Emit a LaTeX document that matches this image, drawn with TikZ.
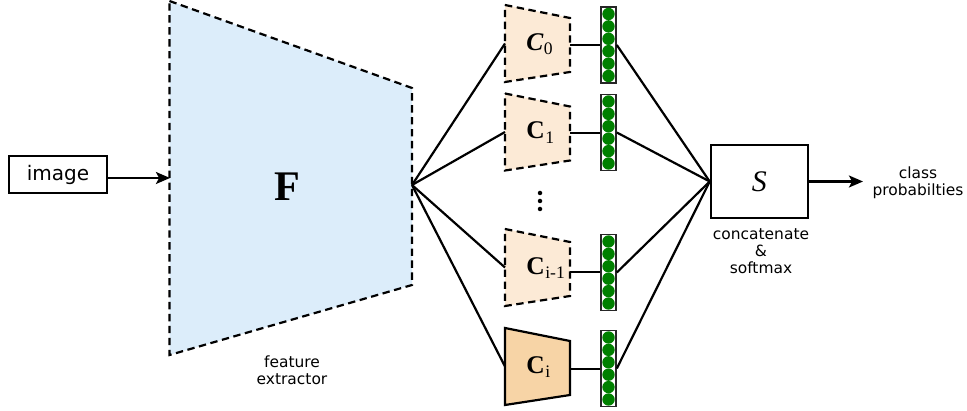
\documentclass[tikz,border=0pt]{standalone}
\usepackage{fontspec}
\setmainfont{DejaVu Sans}
\newfontfamily\tms{Liberation Serif}
\usetikzlibrary{arrows.meta}
\definecolor{fblue}{HTML}{DCEDFA}
\definecolor{peachl}{HTML}{FCEAD6}
\definecolor{peach}{HTML}{F7D4A6}
\definecolor{dotgreen}{HTML}{008000}
\newcommand\pxu{0.02cm}
\newcommand\clab[2]{{\tms\fontsize{14.5}{14.5}\selectfont\bfseries #1C}\kern0.3pt\raisebox{-2.4pt}{\tms\fontsize{10}{10}\selectfont #2}}
\newcommand\greencol[2]{%
  \node[colbox] (#1) at (608.5,#2) {};
  \foreach \k in {0,...,5} \fill[dotgreen] (608.5,{#2-38+7+12.4*\k}) circle[radius=0.124cm];}
\tikzset{
  conn/.style={line width=1.25pt},
  arr/.style={line width=1.25pt,-{Stealth[length=8pt,width=6.8pt,inset=1.8pt]}},
  dashbord/.style={line width=1.25pt,dash pattern=on 4.2pt off 2.6pt},
  colbox/.style={draw=black!85,line width=0.9pt,fill=white,minimum width=15*\pxu,minimum height=76*\pxu,inner sep=0pt},
  lbl/.style={font=\fontsize{8.8}{9.7}\selectfont,align=center,inner sep=0pt},
  boxnode/.style={draw,inner sep=0pt},
}
\begin{document}
\begin{tikzpicture}[x=0.02cm,y=-0.02cm]
\useasboundingbox (0,0) rectangle (967,411);
% input
\node[boxnode,line width=0.8pt,minimum width=98*\pxu,minimum height=37*\pxu,font=\fontsize{11.4}{12}\selectfont] (image) at (58,174.5) {image};
% feature extractor
\draw[dashbord,fill=fblue] (169.5,1) -- (412,88) -- (412,285) -- (169.5,355) -- cycle;
\coordinate (fin) at (170,178);
\coordinate (fout) at (412,185);
\node[anchor=base,inner sep=0pt,font=\tms\fontsize{24}{24}\selectfont\bfseries] (F) at (287,201) {F};
\node[lbl] (fe) at (292,370) {feature\\extractor};
\draw[arr] (image.east |- fin) -- (fin);
% classifiers
\draw[dashbord,fill=peachl] (505,5) -- (570,18) -- (570,72) -- (505,82) -- cycle;
\draw[dashbord,fill=peachl] (505,93.5) -- (570,106.5) -- (570,160.5) -- (505,170.5) -- cycle;
\draw[dashbord,fill=peachl] (505,229) -- (570,242) -- (570,296) -- (505,306) -- cycle;
\draw[line width=1.25pt,fill=peach] (505,328) -- (570,341) -- (570,395) -- (505,405) -- cycle;
\coordinate (c0w) at (505,43.5);
\coordinate (c1w) at (505,132);
\coordinate (c2w) at (505,267.5);
\coordinate (c3w) at (505,366.5);
\coordinate (c0e) at (570,45);
\coordinate (c1e) at (570,133);
\coordinate (c2e) at (570,272);
\coordinate (c3e) at (570,369);
\node[anchor=base west,inner sep=0pt] (c0) at (526,50.5) {\clab{\itshape}{0}};
\node[anchor=base west,inner sep=0pt] (c1) at (526,139) {\clab{}{1}};
\node[anchor=base west,inner sep=0pt] (c2) at (526,274.5) {\clab{}{i-1}};
\node[anchor=base west,inner sep=0pt] (c3) at (526,373.5) {\clab{}{i}};
% vertical dots
\foreach \yy/\nm in {193/d1,201/d2,209/d3} \fill (540,\yy) circle[radius=0.045cm] coordinate (\nm);
% output columns
\greencol{col0}{45}
\greencol{col1}{132.5}
\greencol{col2}{272.5}
\greencol{col3}{368.5}
% softmax
\node[boxnode,line width=1.25pt,minimum width=97*\pxu,minimum height=73*\pxu,font=\tms\fontsize{17}{17}\selectfont\itshape] (S) at (759.3,181.5) {S};
\node[lbl] (cs) at (761,251) {concatenate\\\&\\softmax};
\coordinate (out) at (863,181.5);
\node[lbl] (cp) at (918,183) {class\\probabilties};
% connectors
\foreach \c in {c0w,c1w,c2w,c3w} \draw[conn] (fout) -- (\c);
\foreach \i in {0,1,2,3} \draw[conn] (col\i.west |- c\i e) -- (c\i e);
\foreach \i in {0,1,2,3} \draw[conn] (col\i.east) -- (S.west);
\draw[arr] (S.east) -- (out);
\end{tikzpicture}
\end{document}
